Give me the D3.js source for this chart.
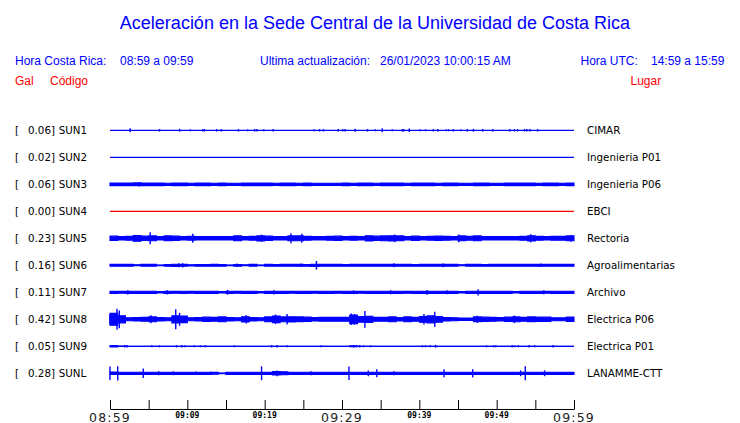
<!DOCTYPE html>
<html><head><meta charset="utf-8">
<script src="https://cdn.jsdelivr.net/npm/d3@7"></script>
<style>
html,body{margin:0;padding:0;background:#fff;}
svg{display:block;}
</style></head>
<body>
<svg id="chart" width="740" height="423"></svg>
<script>
// ---------------- DATA ----------------
const title = "Aceleración en la Sede Central de la Universidad de Costa Rica";
const headerLocal = ["Hora Costa Rica:", "08:59 a 09:59"];
const headerUpdate = ["Ultima actualización:", "26/01/2023 10:00:15 AM"];
const headerUTC = ["Hora UTC:", "14:59 a 15:59"];
const columnHeads = ["Gal", "Código", "Lugar"];

const codes  = ["SUN1","SUN2","SUN3","SUN4","SUN5","SUN6","SUN7","SUN8","SUN9","SUNL"];
const peaks  = [0.06, 0.02, 0.06, 0.00, 0.23, 0.16, 0.11, 0.42, 0.05, 0.28];
const places = ["CIMAR","Ingenieria P01","Ingenieria P06","EBCI","Rectoria","Agroalimentarias","Archivo","Electrica P06","Electrica P01","LANAMME-CTT"];

const timeStart = "08:59", timeEnd = "09:59";
const tickLabelsBig   = ["08:59","09:29","09:59"];
const tickLabelsSmall = ["09:09","09:19","09:39","09:49"];
const tickEveryMinutes = 5;

// per-minute envelope half-amplitudes (gal)
const envSUN1 = [];
const envSUN2 = [];
const envSUN3 = [0.055,0.055,0.055,0.058,0.055,0.055,0.055,0.045,0.055,0.055,0.045,0.055,0.055,0.045,0.055,0.045,0.045,0.055,0.055,0.055,
                 0.055,0.045,0.055,0.055,0.045,0.055,0.045,0.045,0.045,0.045,0.055,0.045,0.055,0.055,0.045,0.055,0.055,0.055,0.045,0.055,
                 0.055,0.055,0.045,0.055,0.055,0.045,0.045,0.055,0.055,0.045,0.045,0.055,0.055,0.055,0.055,0.045,0.055,0.055,0.045,0.055];
const envSUN4 = [];
const envSUN5 = [0.09,0.07,0.08,0.12,0.09,0.10,0.07,0.10,0.09,0.07,0.08,0.07,0.07,0.07,0.07,0.07,0.10,0.07,0.08,0.11,
                 0.09,0.07,0.07,0.10,0.10,0.08,0.07,0.07,0.08,0.09,0.07,0.08,0.07,0.11,0.09,0.10,0.11,0.10,0.07,0.09,
                 0.07,0.08,0.09,0.08,0.07,0.10,0.08,0.10,0.07,0.07,0.07,0.07,0.07,0.08,0.11,0.08,0.07,0.08,0.08,0.10];
const envSUN6 = [0.04,0.04,0.04,0.02,0.04,0.04,0.015,0.035,0.045,0.04,0.025,0.035,0.035,0.04,0.035,0.015,0.035,0.02,0.04,0.015,
                 0.04,0.035,0.04,0.04,0.04,0.035,0.045,0.04,0.04,0.04,0.035,0.04,0.04,0.04,0.04,0.04,0.04,0.04,0.04,0.035,
                 0.04,0.04,0.04,0.04,0.04,0.02,0.04,0.04,0.035,0.04,0.04,0.04,0.04,0.04,0.04,0.04,0.04,0.04,0.04,0.04];
const envSUN7 = [0.045,0.04,0.045,0.045,0.045,0.045,0.03,0.045,0.04,0.045,0.04,0.045,0.045,0.045,0.03,0.045,0.04,0.045,0.045,0.03,
                 0.045,0.045,0.045,0.04,0.045,0.045,0.04,0.045,0.045,0.04,0.045,0.045,0.04,0.045,0.045,0.045,0.045,0.045,0.04,0.045,
                 0.045,0.045,0.045,0.045,0.045,0.03,0.045,0.045,0.045,0.045,0.045,0.045,0.03,0.045,0.045,0.045,0.04,0.045,0.045,0.045];
const envSUN8 = [0.25,0.15,0.06,0.07,0.08,0.10,0.07,0.06,0.15,0.14,0.06,0.07,0.09,0.08,0.10,0.07,0.06,0.11,0.07,0.06,
                 0.10,0.14,0.10,0.11,0.10,0.09,0.07,0.08,0.08,0.08,0.08,0.18,0.12,0.13,0.08,0.08,0.10,0.07,0.10,0.08,
                 0.12,0.15,0.12,0.07,0.06,0.05,0.05,0.10,0.09,0.08,0.07,0.09,0.10,0.08,0.10,0.09,0.09,0.06,0.06,0.09];
const envSUN9 = [0.03,0.01,0,0,0,0,0,0,0,0,0,0,0,0,0,0,0,0,0,0,
                 0,0,0,0,0,0,0,0,0,0,0,0.02,0,0,0,0,0,0,0,0,
                 0,0,0,0,0,0,0,0,0,0,0,0,0,0,0,0,0,0,0,0];
const envSUNL = [0.05,0.045,0.045,0.045,0.045,0.045,0.045,0.045,0.045,0.045,0.045,0.045,0.045,0.04,0.015,0.045,0.045,0.045,0.045,0.045,
                 0.045,0.07,0.06,0.045,0.045,0.045,0.045,0.045,0.045,0.045,0.045,0.045,0.045,0.045,0.045,0.045,0.045,0.045,0.045,0.045,
                 0.045,0.045,0.045,0.045,0.045,0.045,0.045,0.045,0.045,0.045,0.045,0.045,0.045,0.045,0.045,0.045,0.045,0.045,0.045,0.045];

// isolated spikes [minute after 08:59, half-amplitude gal]
const spikesSUN1 = [[2.6,0.06],[6.4,0.03],[9.0,0.04],[10.4,0.02],[12.0,0.03],[12.2,0.03],[13.8,0.03],[14.4,0.03],[16.6,0.03],[17.8,0.02],
                    [18.7,0.03],[19.0,0.03],[19.9,0.02],[21.1,0.03],[26.4,0.02],[27.1,0.03],[27.6,0.03],[29.5,0.03],[30.1,0.03],[30.4,0.03],
                    [31.7,0.04],[33.3,0.03],[34.3,0.02],[35.2,0.06],[36.5,0.02],[37.8,0.03],[38.0,0.03],[38.7,0.05],[40.1,0.02],[40.8,0.02],
                    [41.8,0.03],[42.4,0.03],[43.5,0.02],[43.8,0.02],[44.4,0.03],[45.4,0.02],[46.2,0.03],[47.0,0.04],[48.2,0.03],[49.5,0.03],
                    [51.7,0.03],[52.3,0.03],[52.7,0.03],[53.6,0.03],[53.9,0.03],[54.3,0.03],[55.3,0.03]];
const spikesSUN2 = [];
const spikesSUN3 = [[3.8,0.07]];
const spikesSUN4 = [];
const spikesSUN5 = [[5.2,0.23],[10.7,0.17],[19.6,0.13],[23.4,0.19],[24.8,0.17],[36.8,0.14],[45.1,0.14],[54.4,0.15],[59.6,0.12]];
const spikesSUN6 = [[8.9,0.06],[9.4,0.07],[16.4,0.05],[24.7,0.05],[26.7,0.16],[36.7,0.06],[43.1,0.06],[55.7,0.05]];
const spikesSUN7 = [[2.3,0.07],[7.4,0.07],[15.2,0.08],[21.2,0.07],[31.5,0.06],[36.3,0.06],[41.0,0.08],[43.6,0.06],[47.6,0.11],[56.1,0.06]];
const spikesSUN8 = [[0.0,0.2],[0.9,0.42],[1.2,0.35],[5.3,0.15],[8.5,0.40],[9.0,0.25],[17.6,0.16],[21.4,0.18],[22.9,0.2],[31.2,0.22],[31.6,0.2],[32.96,0.33],[40.6,0.2],[42.0,0.30],[47.5,0.13],[52.3,0.14]];
const spikesSUN9 = [[1.9,0.03],[2.2,0.03],[5.4,0.02],[6.4,0.02],[8.6,0.03],[9.3,0.03],[9.7,0.02],[10.9,0.02],[11.7,0.02],[12.3,0.02],
                    [16.1,0.02],[20.9,0.03],[21.6,0.03],[22.9,0.02],[27.3,0.02],[31.5,0.03],[32.3,0.03],[32.8,0.02],[33.7,0.02],[40.4,0.02],
                    [40.8,0.02],[41.4,0.02],[42.1,0.04],[48.7,0.02],[49.6,0.02],[49.9,0.02],[52.0,0.03],[52.3,0.02],[52.8,0.02],[54.2,0.03],
                    [54.9,0.02],[57.3,0.03]];
const spikesSUNL = [[0.0,0.26],[1.0,0.28],[4.3,0.18],[6.3,0.06],[8.2,0.06],[11.1,0.05],[13.1,0.05],[19.6,0.27],[21.6,0.1],[26.0,0.06],
                    [30.9,0.26],[33.4,0.1],[34.5,0.15],[36.7,0.06],[43.2,0.15],[46.9,0.15],[53.1,0.1],[53.7,0.27],[56.2,0.1]];

const envelopes = [envSUN1,envSUN2,envSUN3,envSUN4,envSUN5,envSUN6,envSUN7,envSUN8,envSUN9,envSUNL];
const spikes    = [spikesSUN1,spikesSUN2,spikesSUN3,spikesSUN4,spikesSUN5,spikesSUN6,spikesSUN7,spikesSUN8,spikesSUN9,spikesSUNL];

// ---------------- DRAW ----------------
const BLUE = "#0000ff", RED = "#ff0000";
const svg = d3.select("#chart");
const parseHM = d3.timeParse("%H:%M");
const t0 = parseHM(timeStart), t1 = parseHM(timeEnd);
const minuteToDate = m => new Date(t0.getTime() + m * 60000);

const x = d3.scaleTime().domain([t0, t1]).range([110, 574]);
const yRow = d3.scalePoint().domain(codes).range([130.3, 373.3]);
const amp = d3.scaleLinear().domain([0, 0.42]).range([0, 10]);

// title & headers
svg.append("text").attr("x", 375).attr("y", 29).attr("text-anchor","middle")
  .style("font-family","Liberation Sans, Arial, sans-serif").style("font-size","18px")
  .attr("fill", BLUE).text(title);

const hdr = (txt, xx, yy, col, anchor) => svg.append("text").attr("x", xx).attr("y", yy)
  .attr("text-anchor", anchor || "start")
  .style("font-family","Liberation Sans, Arial, sans-serif").style("font-size","12px")
  .attr("fill", col).text(txt);
hdr(headerLocal[0], 15, 65, BLUE);
hdr(headerLocal[1], 120, 65, BLUE);
hdr(headerUpdate[0], 260, 65, BLUE);
hdr(headerUpdate[1], 380, 65, BLUE);
hdr(headerUTC[0], 580.5, 65, BLUE);
hdr(headerUTC[1], 651, 65, BLUE);
hdr(columnHeads[0], 15, 84.5, RED);
hdr(columnHeads[1], 50, 84.5, RED);
hdr(columnHeads[2], 630.5, 84.5, RED);

// traces
const lblFont = "DejaVu Sans, Verdana, sans-serif";
codes.forEach((code, i) => {
  const yc = yRow(code);
  const col = peaks[i] === 0 ? RED : BLUE;
  const g = svg.append("g");
  const env = envelopes[i];
  if (env.length) {
    const pts = env.map((a, m) => [m, a]).concat([[env.length, env[env.length - 1]]]);
    const area = d3.area()
      .x(d => x(minuteToDate(d[0])))
      .y0(d => yc - amp(d[1]))
      .y1(d => yc + amp(d[1]))
      .curve(d3.curveStepAfter);
    g.append("path").attr("d", area(pts)).attr("fill", col).attr("stroke", col).attr("stroke-width", 1.1);
  }
  g.append("line").attr("x1", x(t0)).attr("x2", x(t1)).attr("y1", yc).attr("y2", yc)
    .attr("stroke", col).attr("stroke-width", 1.2);
  g.selectAll("line.spk").data(spikes[i]).join("line").attr("class","spk")
    .attr("x1", d => x(minuteToDate(d[0]))).attr("x2", d => x(minuteToDate(d[0])))
    .attr("y1", d => yc - amp(d[1]) - 0.5).attr("y2", d => yc + amp(d[1]) + 0.5)
    .attr("stroke", col).attr("stroke-width", 1.4);

  const lab = svg.append("g").style("font-family", lblFont).style("font-size","10.3px").attr("fill","#000");
  lab.append("text").attr("x", 15).attr("y", yc + 3.7).text("[");
  lab.append("text").attr("x", 55).attr("y", yc + 3.7).attr("text-anchor","end").text(d3.format(".2f")(peaks[i]) + "]");
  lab.append("text").attr("x", 58.7).attr("y", yc + 3.7).text(code);
  lab.append("text").attr("x", 587).attr("y", yc + 3.7).text(places[i]);
});

// time axis
const tickDates = d3.range(0, 61, tickEveryMinutes).map(minuteToDate);
const axis = d3.axisTop(x).tickValues(tickDates).tickSize(9).tickSizeOuter(0).tickFormat("");
const ag = svg.append("g").attr("transform","translate(0,409)").call(axis);
ag.select(".domain").attr("stroke","#000");
ag.selectAll(".tick line").attr("stroke","#000");

svg.selectAll("text.big").data(tickLabelsBig).join("text").attr("class","big")
  .attr("x", d => x(parseHM(d))).attr("y", 421.5).attr("text-anchor","middle")
  .style("font-family","DejaVu Sans, sans-serif").style("font-size","12.5px").style("letter-spacing","1.2px")
  .attr("fill","#222").text(d => d);
svg.selectAll("text.small").data(tickLabelsSmall).join("text").attr("class","small")
  .attr("x", d => x(parseHM(d))).attr("y", 417.5).attr("text-anchor","middle")
  .style("font-family","DejaVu Sans Mono, monospace").style("font-weight","bold").style("font-size","8px")
  .attr("fill","#000").text(d => d);
</script>
</body></html>
